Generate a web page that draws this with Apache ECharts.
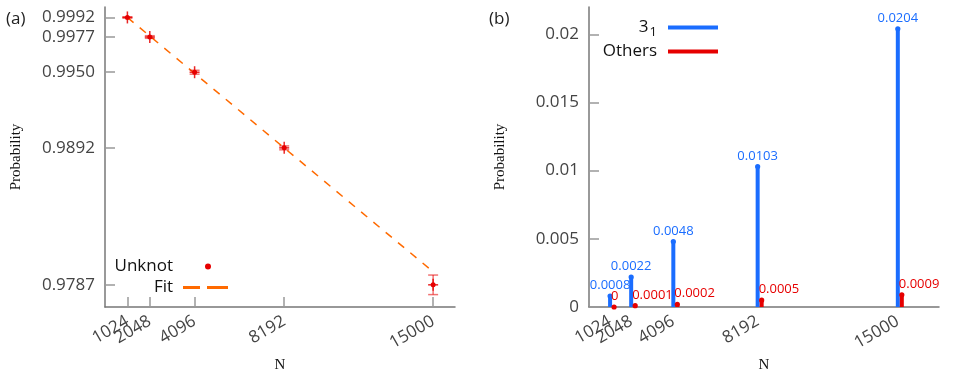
<!DOCTYPE html>
<html>
<head>
<meta charset="utf-8">
<script src="https://cdn.jsdelivr.net/npm/echarts@6/dist/echarts.min.js"></script>
<style>
  html, body { margin: 0; padding: 0; background: #fff; }
  #chart { width: 969px; height: 375px; }
</style>
</head>
<body>
<div id="chart"></div>
<script>
// chain lengths
const nValues = [1024, 2048, 4096, 8192, 15000]
// panel (a): unknot probability with error
const unknotProb = [0.9992, 0.9977, 0.9950, 0.9892, 0.9787]
const unknotErr = [0.00005, 0.0001, 0.00015, 0.00015, 0.00075]
// linear fit end points
const fitN = [1024, 15000]
const fitProb = [0.9992, 0.9797]
// panel (b): knot type probabilities
const trefoilProb = [0.0008, 0.0022, 0.0048, 0.0103, 0.0204]
const othersProb = [0, 0.0001, 0.0002, 0.0005, 0.0009]
const probTicks = [0, 0.005, 0.01, 0.015, 0.02]

// 1024 and 2048 labels overlap, echarts would drop one -> second axis for 2048
const nLabelsA = nValues.filter((n, i) => i !== 1)
const nLabelsB = nValues.filter((n, i) => i === 1)

const RED = '#e60000'
const BLUE = '#1a6dff'
const ORANGE = '#ff6a00'
const FONT = 'Open Sans'
const SERIF = 'Liberation Serif'

function pairs(xs, ys) {
  return xs.map((x, i) => [x, ys[i]])
}

// error bar + cross + dot for the unknot points
function unknotItem(params, api) {
  const n = api.value(0)
  const p = api.value(1)
  const e = api.value(2)
  const c = api.coord([n, p])
  const hi = api.coord([n, p + e])
  const lo = api.coord([n, p - e])
  const bar = { stroke: 'rgba(230,0,0,0.55)', lineWidth: 1.5 }
  const arm = { stroke: 'rgba(230,0,0,0.85)', lineWidth: 1.5 }
  return {
    type: 'group',
    children: [
      { type: 'line', shape: { x1: c[0], y1: hi[1], x2: c[0], y2: lo[1] }, style: bar },
      { type: 'line', shape: { x1: c[0] - 5, y1: hi[1], x2: c[0] + 5, y2: hi[1] }, style: bar },
      { type: 'line', shape: { x1: c[0] - 5, y1: lo[1], x2: c[0] + 5, y2: lo[1] }, style: bar },
      { type: 'line', shape: { x1: c[0] - 5, y1: c[1], x2: c[0] + 5, y2: c[1] }, style: arm },
      { type: 'line', shape: { x1: c[0], y1: c[1] - 6, x2: c[0], y2: c[1] + 6 }, style: arm },
      { type: 'circle', shape: { cx: c[0], cy: c[1], r: 2.5 }, style: { fill: RED } }
    ]
  }
}

// stem with dot and value label
function stemItem(offset, color, labelAlign) {
  return function(params, api) {
    const v = api.value(1)
    const base = api.coord([api.value(0), 0])
    const top = api.coord([api.value(0), v])
    const x = top[0] + offset
    const lx = labelAlign === 'center' ? x : x - 3
    return {
      type: 'group',
      children: [
        { type: 'line', shape: { x1: x, y1: base[1], x2: x, y2: top[1] }, style: { stroke: color, lineWidth: 4 } },
        { type: 'circle', shape: { cx: x, cy: top[1], r: 2.6 }, style: { fill: color } },
        {
          type: 'text',
          x: lx,
          y: top[1] - 4,
          style: {
            text: String(v),
            fill: color,
            font: '13px "' + FONT + '"',
            align: labelAlign,
            verticalAlign: 'bottom'
          }
        }
      ]
    }
  }
}

const axisLabelStyle = { color: '#444', fontFamily: FONT, fontSize: 17, hideOverlap: false }
const axisLineStyle = { lineStyle: { color: '#777', width: 1.5 } }
const tickStyle = { inside: true, length: 10, lineStyle: { color: '#999', width: 1.5 } }
const nameStyle = { color: '#111', fontFamily: SERIF, fontSize: 15 }
const legendText = { color: '#111', fontFamily: FONT, fontSize: 17 }

function nAxis(grid, max, labels, main, ticks) {
  return {
    gridIndex: grid, type: 'value', min: 0, max: max, position: 'bottom',
    name: main ? 'N' : '', nameLocation: 'middle', nameGap: 51, nameTextStyle: nameStyle,
    axisLine: main ? axisLineStyle : { show: false },
    axisTick: ticks ? Object.assign({ customValues: nValues }, tickStyle) : { show: false },
    axisLabel: Object.assign({
      customValues: labels, rotate: 30, margin: 13, formatter: v => String(v)
    }, axisLabelStyle),
    splitLine: { show: false }
  }
}

const option = {
  animation: false,
  backgroundColor: '#fff',
  title: [
    { text: '(a)', left: 1, top: 6, textStyle: { color: '#222', fontFamily: FONT, fontSize: 17, fontWeight: 'normal' } },
    { text: '(b)', left: 484, top: 6, textStyle: { color: '#222', fontFamily: FONT, fontSize: 17, fontWeight: 'normal' } }
  ],
  legend: [
    {
      data: [{ name: 'Unknot', icon: 'circle' }],
      orient: 'vertical', align: 'right', right: 758, top: 258, padding: 0,
      itemWidth: 6, itemHeight: 6,
      textStyle: Object.assign({ padding: [0, 27, 0, 0] }, legendText)
    },
    {
      data: [{ name: 'Fit', icon: 'path://M0,0h17v3h-17zM24,0h21v3h-21z', itemStyle: { color: ORANGE } }],
      orient: 'vertical', align: 'right', right: 741, top: 279, padding: 0,
      itemWidth: 45, itemHeight: 3,
      textStyle: Object.assign({ padding: [0, 5, 0, 0] }, legendText)
    },
    {
      data: [{ name: '3_1', icon: 'rect' }],
      orient: 'vertical', align: 'right', right: 251, top: 19, padding: 0,
      itemWidth: 50, itemHeight: 4,
      formatter: function(name) {
        return '3{sub|1}'
      },
      textStyle: Object.assign({
        padding: [0, 6, 0, 0],
        rich: { sub: { fontFamily: FONT, fontSize: 13, color: '#111', padding: [10, 0, 0, 1] } }
      }, legendText)
    },
    {
      data: [{ name: 'Others', icon: 'rect' }],
      orient: 'vertical', align: 'right', right: 251, top: 43, padding: 0,
      itemWidth: 50, itemHeight: 4,
      textStyle: Object.assign({ padding: [0, 6, 0, 0] }, legendText)
    }
  ],
  grid: [
    { left: 105, right: 514, top: 7, bottom: 68, outerBoundsMode: 'none' },
    { left: 589, right: 30, top: 7, bottom: 68, outerBoundsMode: 'none' }
  ],
  xAxis: [
    nAxis(0, 16000, nLabelsA, true, true),
    nAxis(1, 17000, nLabelsA, true, false),
    nAxis(0, 16000, nLabelsB, false, false),
    nAxis(1, 17000, nLabelsB, false, false)
  ],
  yAxis: [
    {
      gridIndex: 0, type: 'value', min: 0.977, max: 1.0,
      name: 'Probability', nameLocation: 'middle', nameGap: 81, nameTextStyle: nameStyle,
      axisLine: axisLineStyle,
      axisTick: Object.assign({ customValues: unknotProb }, tickStyle),
      axisLabel: Object.assign({
        customValues: unknotProb, margin: 10,
        formatter: function(v) { return v.toFixed(4) }
      }, axisLabelStyle),
      splitLine: { show: false }
    },
    {
      gridIndex: 1, type: 'value', min: 0, max: 0.022,
      name: 'Probability', nameLocation: 'middle', nameGap: 81, nameTextStyle: nameStyle,
      axisLine: axisLineStyle,
      axisTick: Object.assign({ customValues: probTicks }, tickStyle),
      axisLabel: Object.assign({
        customValues: probTicks, margin: 10,
        formatter: function(v) { return String(+v.toFixed(3)) }
      }, axisLabelStyle),
      splitLine: { show: false }
    }
  ],
  series: [
    {
      name: 'Fit',
      type: 'line',
      xAxisIndex: 0, yAxisIndex: 0,
      data: pairs(fitN, fitProb),
      symbol: 'none',
      lineStyle: { color: ORANGE, width: 1.5, type: [8, 8] },
      itemStyle: { color: ORANGE },
      z: 2
    },
    {
      name: 'Unknot',
      type: 'custom',
      xAxisIndex: 0, yAxisIndex: 0,
      data: nValues.map((n, i) => [n, unknotProb[i], unknotErr[i]]),
      itemStyle: { color: RED },
      renderItem: unknotItem,
      clip: false,
      z: 3
    },
    {
      name: '3_1',
      type: 'custom',
      xAxisIndex: 1, yAxisIndex: 1,
      data: pairs(nValues, trefoilProb),
      itemStyle: { color: BLUE },
      renderItem: stemItem(0, BLUE, 'center'),
      clip: false
    },
    {
      name: 'Others',
      type: 'custom',
      xAxisIndex: 1, yAxisIndex: 1,
      data: pairs(nValues, othersProb),
      itemStyle: { color: RED },
      renderItem: stemItem(4, RED, 'left'),
      clip: false
    }
  ]
}

const chart = echarts.init(document.getElementById('chart'), null, { renderer: 'canvas' })
chart.setOption(option)
</script>
</body>
</html>
